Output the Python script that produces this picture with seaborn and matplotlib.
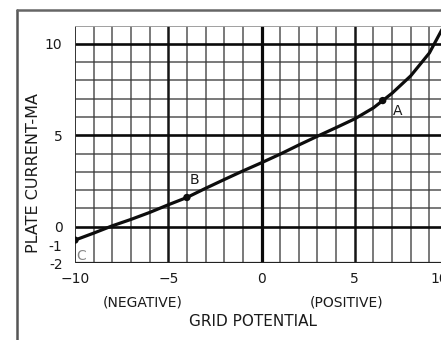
import matplotlib
matplotlib.use("Agg")
import matplotlib.pyplot as plt
import seaborn as sns
import pandas as pd
from matplotlib.lines import Line2D
from matplotlib.transforms import ScaledTranslation

# ---- data ----
grid_potential = [-10, -9, -8, -7, -6, -5, -4, -3, -2, -1, 0, 1, 2, 3, 4, 5, 6, 7, 8, 9, 10]
plate_current = [-0.73, -0.35, 0.05, 0.4, 0.78, 1.2, 1.6, 2.1, 2.58, 3.05, 3.5,
                 3.97, 4.47, 4.95, 5.42, 5.9, 6.5, 7.3, 8.25, 9.5, 11.4]
point_names = ["A", "B", "C"]
point_x = [6.5, -4.0, -10.0]
point_y = [6.9, 1.6, -0.73]
x_ticks = [-10, -5, 0, 5, 10]
x_tick_labels = ["\u221210", "\u22125", "0", "5", "10"]
y_ticks = [-2, -1, 0, 5, 10]
y_tick_labels = ["-2", "-1", "0", "5", "10"]
x_label = "GRID POTENTIAL"
y_label = "PLATE CURRENT-MA"
neg_label = "(NEGATIVE)"
pos_label = "(POSITIVE)"

sns.set_theme(style="white")
plt.rcParams["font.family"] = ["DejaVu Sans"]

W, H = 441, 340
fig = plt.figure(figsize=(W / 100, H / 100), dpi=100)
fig.patch.set_facecolor("white")
ax = fig.add_axes([75 / W, 1 - 263.3 / H, 373 / W, (263.3 - 25.6) / H])
ax.set_facecolor("white")

ax.set_xlim(-10, 10)
ax.set_ylim(-2, 11)

# grid
ax.set_xticks(range(-10, 11), minor=True)
ax.set_yticks(range(-2, 12), minor=True)
ax.grid(which="minor", color="#3a3a3a", lw=1.2, alpha=0.8)
ax.grid(which="major", visible=False)
for v in [-5, 5]:
    ax.axvline(v, color="#151515", lw=1.8, zorder=1.5)
ax.axvline(0, color="#0a0a0a", lw=2.3, zorder=1.5)
for h in [0, 5, 10]:
    ax.axhline(h, color="#0a0a0a", lw=1.9, zorder=1.5)
ax.axhline(-2, color="#222222", lw=1.6, zorder=1.5)
ax.axvline(-10, color="#333333", lw=1.4, zorder=1.5)
ax.axhline(11, color="#aaaaaa", lw=1.2, zorder=1.5)
for s in ax.spines.values():
    s.set_visible(False)

df = pd.DataFrame({"grid": grid_potential, "plate": plate_current})
sns.lineplot(data=df, x="grid", y="plate", color="#0d0d0d", lw=2.3, ax=ax, zorder=3)
sns.scatterplot(x=point_x, y=point_y, color="#0d0d0d", s=28, edgecolor="none", ax=ax, zorder=4)

label_offsets = {"A": (15, -10), "B": (8, 17), "C": (6, -16)}
label_colors = {"A": "#1a1a1a", "B": "#1a1a1a", "C": "#888888"}
for name, px_, py_ in zip(point_names, point_x, point_y):
    ax.annotate(name, (px_, py_), xytext=label_offsets[name], textcoords="offset pixels",
                ha="center", va="center", fontsize=10, color=label_colors[name], zorder=5)

ax.set_xticks(x_ticks)
ax.set_xticklabels(x_tick_labels)
ax.set_yticks(y_ticks)
ax.set_yticklabels(y_tick_labels)
ax.tick_params(axis="both", which="both", length=0, labelsize=10, colors="#1a1a1a")
ax.tick_params(axis="x", pad=6)
ax.tick_params(axis="y", pad=9)
ax.set_xlabel("")
ax.set_ylabel("")
# the last x label sits a little left of its grid line, as in the reference
last = ax.get_xticklabels()[-1]
last.set_transform(last.get_transform() + ScaledTranslation(-9 / 100, 0, fig.dpi_scale_trans))

fig.text(143 / W, 1 - 302 / H, neg_label, ha="center", va="center", fontsize=10, color="#1a1a1a")
fig.text(347 / W, 1 - 302 / H, pos_label, ha="center", va="center", fontsize=10, color="#1a1a1a")
fig.text(253 / W, 1 - 322 / H, x_label, ha="center", va="center", fontsize=11, color="#1a1a1a")
fig.text(34 / W, 1 - 173 / H, y_label, ha="center", va="center", rotation=90,
         fontsize=11.5, color="#1a1a1a")

# outer frame (left and top edges of the scanned box)
fig.add_artist(Line2D([17 / W, 17 / W], [0, 1 - 10 / H], transform=fig.transFigure,
                      color="#555555", lw=1.8))
fig.add_artist(Line2D([17 / W, 1], [1 - 10 / H, 1 - 10 / H], transform=fig.transFigure,
                      color="#666666", lw=1.8))

fig.savefig("out.png", dpi=100, facecolor="white")
